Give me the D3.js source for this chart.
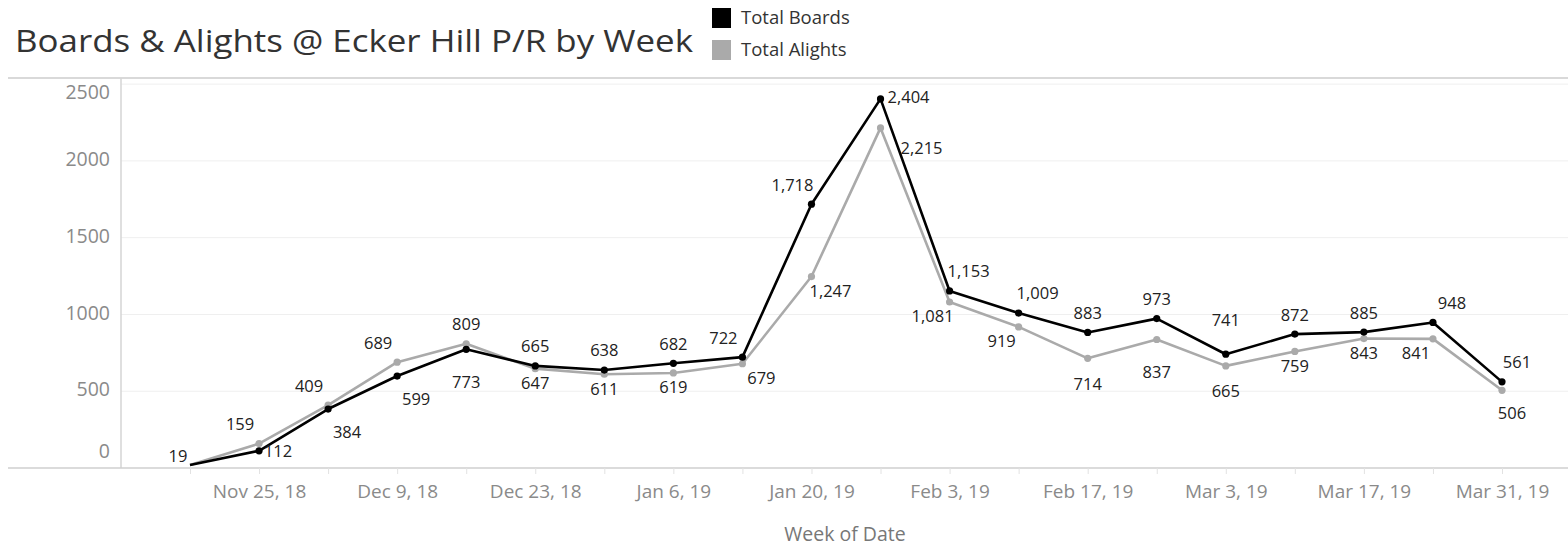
<!DOCTYPE html>
<html>
<head>
<meta charset="utf-8">
<script src="https://cdn.jsdelivr.net/npm/d3@7"></script>
<style>
  body { margin: 0; background: #fff; }
  text { font-family: "Open Sans", "Noto Sans", sans-serif; }
</style>
</head>
<body>
<div id="chart"></div>
<script>
// weekly totals, Ecker Hill P/R
var weeks = ["2018-11-18","2018-11-25","2018-12-02","2018-12-09","2018-12-16","2018-12-23","2018-12-30",
             "2019-01-06","2019-01-13","2019-01-20","2019-01-27","2019-02-03","2019-02-10","2019-02-17",
             "2019-02-24","2019-03-03","2019-03-10","2019-03-17","2019-03-24","2019-03-31"];
var boards  = [19,112,384,599,773,665,638,682,722,1718,2404,1153,1009,883,973,741,872,885,948,561];
var alights = [19,159,409,689,809,647,611,619,679,1247,2215,1081,919,714,837,665,759,843,841,506];
var y_ticks = [0,500,1000,1500,2000,2500];
var series_names = ["Total Boards","Total Alights"];
var series_colors = ["#000000","#aaaaaa"];

var W = 1568, H = 547;
var plot = {left: 121, right: W, top: 78, bottom: 468};

var parse = d3.utcParse("%Y-%m-%d");
var dates = weeks.map(parse);

var x = d3.scaleUtc()
          .domain([dates[0], dates[dates.length-1]])
          .range([190, 1502]);
var y = d3.scaleLinear()
          .domain([0, 2540])
          .range([plot.bottom, plot.top]);

var svg = d3.select("#chart").append("svg")
            .attr("width", W).attr("height", H);

// title + legend
svg.append("text")
   .attr("x", 15).attr("y", 52)
   .style("font-size", "31px").style("fill", "#333")
   .attr("textLength", 678).attr("lengthAdjust", "spacingAndGlyphs")
   .text("Boards & Alights @ Ecker Hill P/R by Week");

var legend = svg.append("g").attr("transform", "translate(712,8)");
series_names.forEach(function(n, i){
  legend.append("rect").attr("x", 0).attr("y", i*32).attr("width", 19).attr("height", 20)
        .style("fill", series_colors[i]);
  legend.append("text").attr("x", 29).attr("y", i*32 + 11)
        .attr("dominant-baseline", "middle")
        .style("font-size", "18.5px").style("fill", "#333")
        .text(n);
});

// frame + gridlines
svg.append("line").attr("x1", 8).attr("x2", W).attr("y1", plot.top).attr("y2", plot.top)
   .attr("stroke", "#d9d9d9").attr("stroke-width", 2);

svg.append("g").selectAll("line").data(y_ticks.slice(1))
   .enter().append("line")
   .attr("x1", plot.left).attr("x2", W)
   .attr("y1", d => y(d)).attr("y2", d => y(d))
   .attr("stroke", "#efefef").attr("stroke-width", 1);

svg.append("line").attr("x1", plot.left).attr("x2", plot.left).attr("y1", plot.top).attr("y2", plot.bottom)
   .attr("stroke", "#d4d4d4").attr("stroke-width", 1.5);
svg.append("line").attr("x1", 8).attr("x2", W).attr("y1", plot.bottom).attr("y2", plot.bottom)
   .attr("stroke", "#cfcfcf").attr("stroke-width", 1.5);

// y tick labels (top/bottom labels nudged inside the pane like Tableau)
svg.append("g").selectAll("text").data(y_ticks)
   .enter().append("text")
   .attr("x", 110)
   .attr("y", function(d){
     var p = y(d);
     if (d === 0) p -= 15;
     if (d === y_ticks[y_ticks.length-1]) p += 10;
     return p;
   })
   .attr("text-anchor", "end").attr("dominant-baseline", "middle")
   .style("font-size", "19.5px").style("fill", "#8a8a8a")
   .text(d => d);

// x axis: weekly ticks, labels every other week
var xAxis = d3.axisBottom(x)
              .tickValues(dates)
              .tickSize(6)
              .tickFormat((d,i) => i % 2 === 1 ? d3.utcFormat("%b %-d, %y")(d) : "");
var gx = svg.append("g").attr("transform", `translate(0,${plot.bottom})`).call(xAxis);
gx.select(".domain").remove();
gx.selectAll(".tick line").attr("stroke", "#e2e2e2");
gx.selectAll(".tick text").attr("y", 25).attr("dy", null)
  .attr("dominant-baseline", "middle")
  .style("font-size", "19px").style("fill", "#8a8a8a")
  .style("font-family", '"Open Sans", "Noto Sans", sans-serif');

svg.append("text").attr("x", 845).attr("y", 536)
   .attr("text-anchor", "middle").attr("dominant-baseline", "middle")
   .style("font-size", "19.5px").style("fill", "#777")
   .text("Week of Date");

// lines
var rows = dates.map((d,i) => ({date: d, boards: boards[i], alights: alights[i]}));
var line = key => d3.line().x(d => x(d.date)).y(d => y(d[key]));

["alights","boards"].forEach(function(key){
  var col = key === "boards" ? series_colors[0] : series_colors[1];
  svg.append("path").datum(rows)
     .attr("d", line(key))
     .attr("fill", "none").attr("stroke", col).attr("stroke-width", 2.6)
     .attr("stroke-linejoin", "round");
  svg.append("g").selectAll("circle").data(rows.slice(1))
     .enter().append("circle")
     .attr("cx", d => x(d.date)).attr("cy", d => y(d[key]))
     .attr("r", 3.6).style("fill", col);
});

// mark labels: higher value above, lower below, nudged away from the line
var labelG = svg.append("g");
var fmt = d3.format(",");
var last = rows.length - 1;
rows.forEach(function(r, i){
  var px = x(r.date);
  var vals = [{v: r.boards, k: "boards"}, {v: r.alights, k: "alights"}];
  var hi = r.boards >= r.alights ? vals[0] : vals[1];
  var lo = r.boards >= r.alights ? vals[1] : vals[0];
  var prev = i > 0 ? rows[i-1] : r;
  var next = i < last ? rows[i+1] : r;

  function place(o, top){
    var cur = o.v, p = prev[o.k], n = next[o.k];
    var trend = n - p, dx = 0, dy = top ? -18 : 16, anchor = "middle";
    var peak = (cur - p > 300 && cur - n > 300);
    var isMax = (cur - p > 30 && cur - n > 30);
    var isMin = (p - cur > 30 && n - cur > 30);
    if (i === 0) { dx = -12; dy = -8; }
    else if (i === last) { dx = top ? 15 : 10; dy = top ? -18 : 24; }
    else if (peak) { anchor = "start"; dx = 7; dy = top ? 0 : 22; if (!top) dx = 20; }
    else {
      if (trend > 200) dx = top ? -19 : 19;
      else if (trend < -250) dx = top ? 19 : -17;
      if (!top && isMin) dy = 27;
      if (!top && isMax) dy = 34;
      if (top && isMin && Math.max(p - cur, n - cur) > 200) dy = -33;
      if (!top && i === 1) dy = 2;
      if (!top && (i === 2 || i === 3)) dy = 25;
    }
    labelG.append("text")
          .attr("x", px + dx).attr("y", y(cur) + dy)
          .attr("text-anchor", anchor).attr("dominant-baseline", "middle")
          .style("font-size", "16.5px").style("fill", "#222")
          .text(fmt(cur));
  }
  place(hi, true);
  if (lo.v !== hi.v) place(lo, false);
});
</script>
</body>
</html>
